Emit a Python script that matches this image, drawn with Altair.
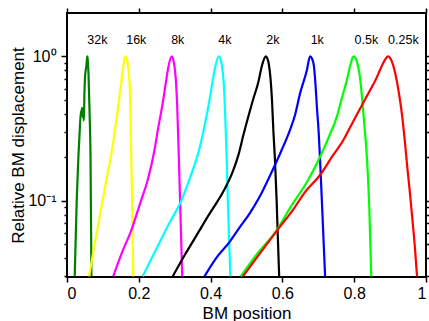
import altair as alt
import pandas as pd

freqs = ["32k", "16k", "8k", "4k", "2k", "1k", "0.5k", "0.25k"]
colors = ["#008000", "#ffff00", "#ff00ff", "#00ffff", "#000000", "#0000ff", "#00ff00", "#ff0000"]

x_32k = [0.0215, 0.027, 0.0317, 0.0355, 0.039, 0.0405, 0.042, 0.0435, 0.045, 0.047, 0.0485, 0.050, 0.052, 0.054, 0.0555, 0.0568, 0.058, 0.060, 0.063, 0.0655, 0.0665, 0.068]
y_32k = [0.030, 0.10, 0.20, 0.31, 0.42, 0.40, 0.44, 0.38, 0.42, 0.36, 0.55, 0.70, 0.80, 0.86, 0.95, 1.0, 0.93, 0.75, 0.40, 0.20, 0.10, 0.030]

x_16k = [0.0615, 0.080, 0.099, 0.112, 0.122, 0.131, 0.141, 0.153, 0.158, 0.162, 0.168, 0.172, 0.175, 0.177, 0.179, 0.1815, 0.1846]
y_16k = [0.030, 0.055, 0.10, 0.15, 0.20, 0.28, 0.42, 0.72, 0.89, 1.0, 0.93, 0.78, 0.60, 0.40, 0.20, 0.10, 0.030]

x_8k = [0.1287, 0.155, 0.178, 0.206, 0.225, 0.243, 0.255, 0.265, 0.275, 0.2825, 0.2918, 0.298, 0.303, 0.307, 0.311, 0.315, 0.321]
y_8k = [0.030, 0.045, 0.0615, 0.10, 0.14, 0.22, 0.33, 0.45, 0.65, 0.85, 1.0, 0.90, 0.70, 0.45, 0.22, 0.10, 0.030]

x_4k = [0.2107, 0.248, 0.285, 0.318, 0.345, 0.369, 0.385, 0.397, 0.411, 0.4224, 0.428, 0.432, 0.436, 0.439, 0.444, 0.448, 0.452, 0.455]
y_4k = [0.030, 0.046, 0.07, 0.10, 0.15, 0.23, 0.35, 0.50, 0.80, 1.0, 0.95, 0.85, 0.68, 0.50, 0.23, 0.10, 0.05, 0.030]

x_2k = [0.2946, 0.33, 0.365, 0.395, 0.420, 0.440, 0.462, 0.478, 0.492, 0.507, 0.518, 0.532, 0.5445, 0.554, 0.558, 0.562, 0.567, 0.571, 0.575, 0.579, 0.584, 0.5866, 0.591]
y_2k = [0.030, 0.043, 0.060, 0.08, 0.10, 0.122, 0.16, 0.21, 0.29, 0.40, 0.50, 0.65, 0.89, 1.0, 0.97, 0.89, 0.70, 0.50, 0.30, 0.20, 0.10, 0.063, 0.030]

x_1k = [0.383, 0.415, 0.453, 0.480, 0.509, 0.535, 0.560, 0.598, 0.621, 0.636, 0.649, 0.668, 0.677, 0.683, 0.688, 0.692, 0.696, 0.701, 0.705, 0.711, 0.719]
y_1k = [0.030, 0.040, 0.052, 0.065, 0.082, 0.105, 0.14, 0.225, 0.309, 0.40, 0.553, 0.80, 1.0, 0.96, 0.85, 0.65, 0.45, 0.30, 0.19, 0.087, 0.030]

x_05k = [0.484, 0.53, 0.585, 0.621, 0.672, 0.705, 0.730, 0.7515, 0.766, 0.7795, 0.790, 0.798, 0.804, 0.809, 0.814, 0.818, 0.824, 0.830, 0.836, 0.842, 0.8476]
y_05k = [0.030, 0.043, 0.063, 0.089, 0.14, 0.202, 0.28, 0.382, 0.52, 0.683, 0.89, 1.0, 0.97, 0.89, 0.78, 0.65, 0.45, 0.30, 0.19, 0.09, 0.030]

x_025k = [0.490, 0.5866, 0.630, 0.663, 0.705, 0.737, 0.770, 0.796, 0.8215, 0.842, 0.859, 0.875, 0.886, 0.894, 0.905, 0.915, 0.925, 0.934, 0.941, 0.948, 0.955, 0.962, 0.969, 0.975]
y_025k = [0.030, 0.063, 0.087, 0.115, 0.151, 0.20, 0.264, 0.35, 0.459, 0.57, 0.683, 0.84, 0.95, 1.0, 0.92, 0.75, 0.55, 0.38, 0.26, 0.17, 0.115, 0.075, 0.048, 0.030]

label_x = [0.0848, 0.193, 0.3085, 0.440, 0.5734, 0.697, 0.834, 0.937]
label_y = [1.3, 1.3, 1.3, 1.3, 1.3, 1.3, 1.3, 1.3]

x_ticks = [0, 0.2, 0.4, 0.6, 0.8, 1]
y_ticks = [0.03, 0.04, 0.05, 0.06, 0.07, 0.08, 0.09, 0.1, 0.2, 0.3, 0.4, 0.5, 0.6, 0.7, 0.8, 0.9, 1]

series = [x_32k, x_16k, x_8k, x_4k, x_2k, x_1k, x_05k, x_025k]
series_y = [y_32k, y_16k, y_8k, y_4k, y_2k, y_1k, y_05k, y_025k]

rows = []
for f, xs, ys in zip(freqs, series, series_y):
    for i, (a, b) in enumerate(zip(xs, ys)):
        rows.append({"freq": f, "i": i, "x": a, "y": b})
df = pd.DataFrame(rows)
lab = pd.DataFrame({"x": label_x, "y": label_y, "t": freqs})

FONT = "Liberation Sans"
xscale = alt.Scale(domain=[0, 1], nice=False, zero=False)
yscale = alt.Scale(type="log", domain=[0.0297, 2.0], nice=False)
major = "datum.value == 1 || datum.value == 0.1"
tick_cond = {"condition": {"test": major, "value": 6}, "value": 3}

lines = alt.Chart(df).mark_line(strokeWidth=2.2, clip=True, interpolate="monotone").encode(
    x=alt.X("x:Q", scale=xscale, axis=alt.Axis(
        orient="bottom", values=x_ticks, format="~g", domain=False, grid=False,
        tickSize=5, tickWidth=1.5, tickColor="black",
        labelFont=FONT, labelFontSize=16, labelColor="black", labelPadding=3,
        title="BM position", titleFont=FONT, titleFontSize=17, titleFontWeight="normal",
        titleColor="black", titleY=41, titleBaseline="alphabetic")),
    y=alt.Y("y:Q", scale=yscale, axis=alt.Axis(
        orient="left", values=y_ticks,
        labelExpr="datum.value == 1 ? '10⁰' : (datum.value == 0.1 ? '10⁻¹' : '')",
        domain=False, grid=False, tickSize=tick_cond, tickWidth=1.5, tickColor="black",
        labelFont=FONT, labelFontSize=16, labelColor="black", labelPadding=5,
        title="Relative BM displacement", titleFont=FONT, titleFontSize=17,
        titleFontWeight="normal", titleColor="black", titleX=-49, titleY=132,
        titleAlign="center", titleBaseline="middle")),
    color=alt.Color("freq:N", scale=alt.Scale(domain=freqs, range=colors), legend=None),
    order="i:Q",
)

frame_axes = alt.Chart(df).mark_point(opacity=0).encode(
    x=alt.X("x:Q", scale=xscale, axis=alt.Axis(
        orient="top", values=x_ticks, labels=False, domain=False, grid=False,
        tickSize=5, tickWidth=1.5, tickColor="black", title=None)),
    y=alt.Y("y:Q", scale=yscale, axis=alt.Axis(
        orient="right", values=y_ticks, labels=False, domain=False, grid=False,
        tickSize=tick_cond, tickWidth=1.5, tickColor="black", title=None)),
)

labels = alt.Chart(lab).mark_text(font=FONT, fontSize=12.5, baseline="middle", align="center", color="black").encode(
    x=alt.X("x:Q", scale=xscale, axis=None),
    y=alt.Y("y:Q", scale=yscale, axis=None),
    text="t:N",
)

chart = alt.layer(lines, frame_axes, labels).resolve_axis(
    x="independent", y="independent"
).properties(
    width=359, height=264,
    autosize=alt.AutoSizeParams(type="none"),
    padding={"left": 67, "top": 13, "right": 3, "bottom": 44},
    background="white",
).configure_view(stroke="black", strokeWidth=2)

chart.save("out.html", embed_options={"renderer": "svg", "actions": False})
